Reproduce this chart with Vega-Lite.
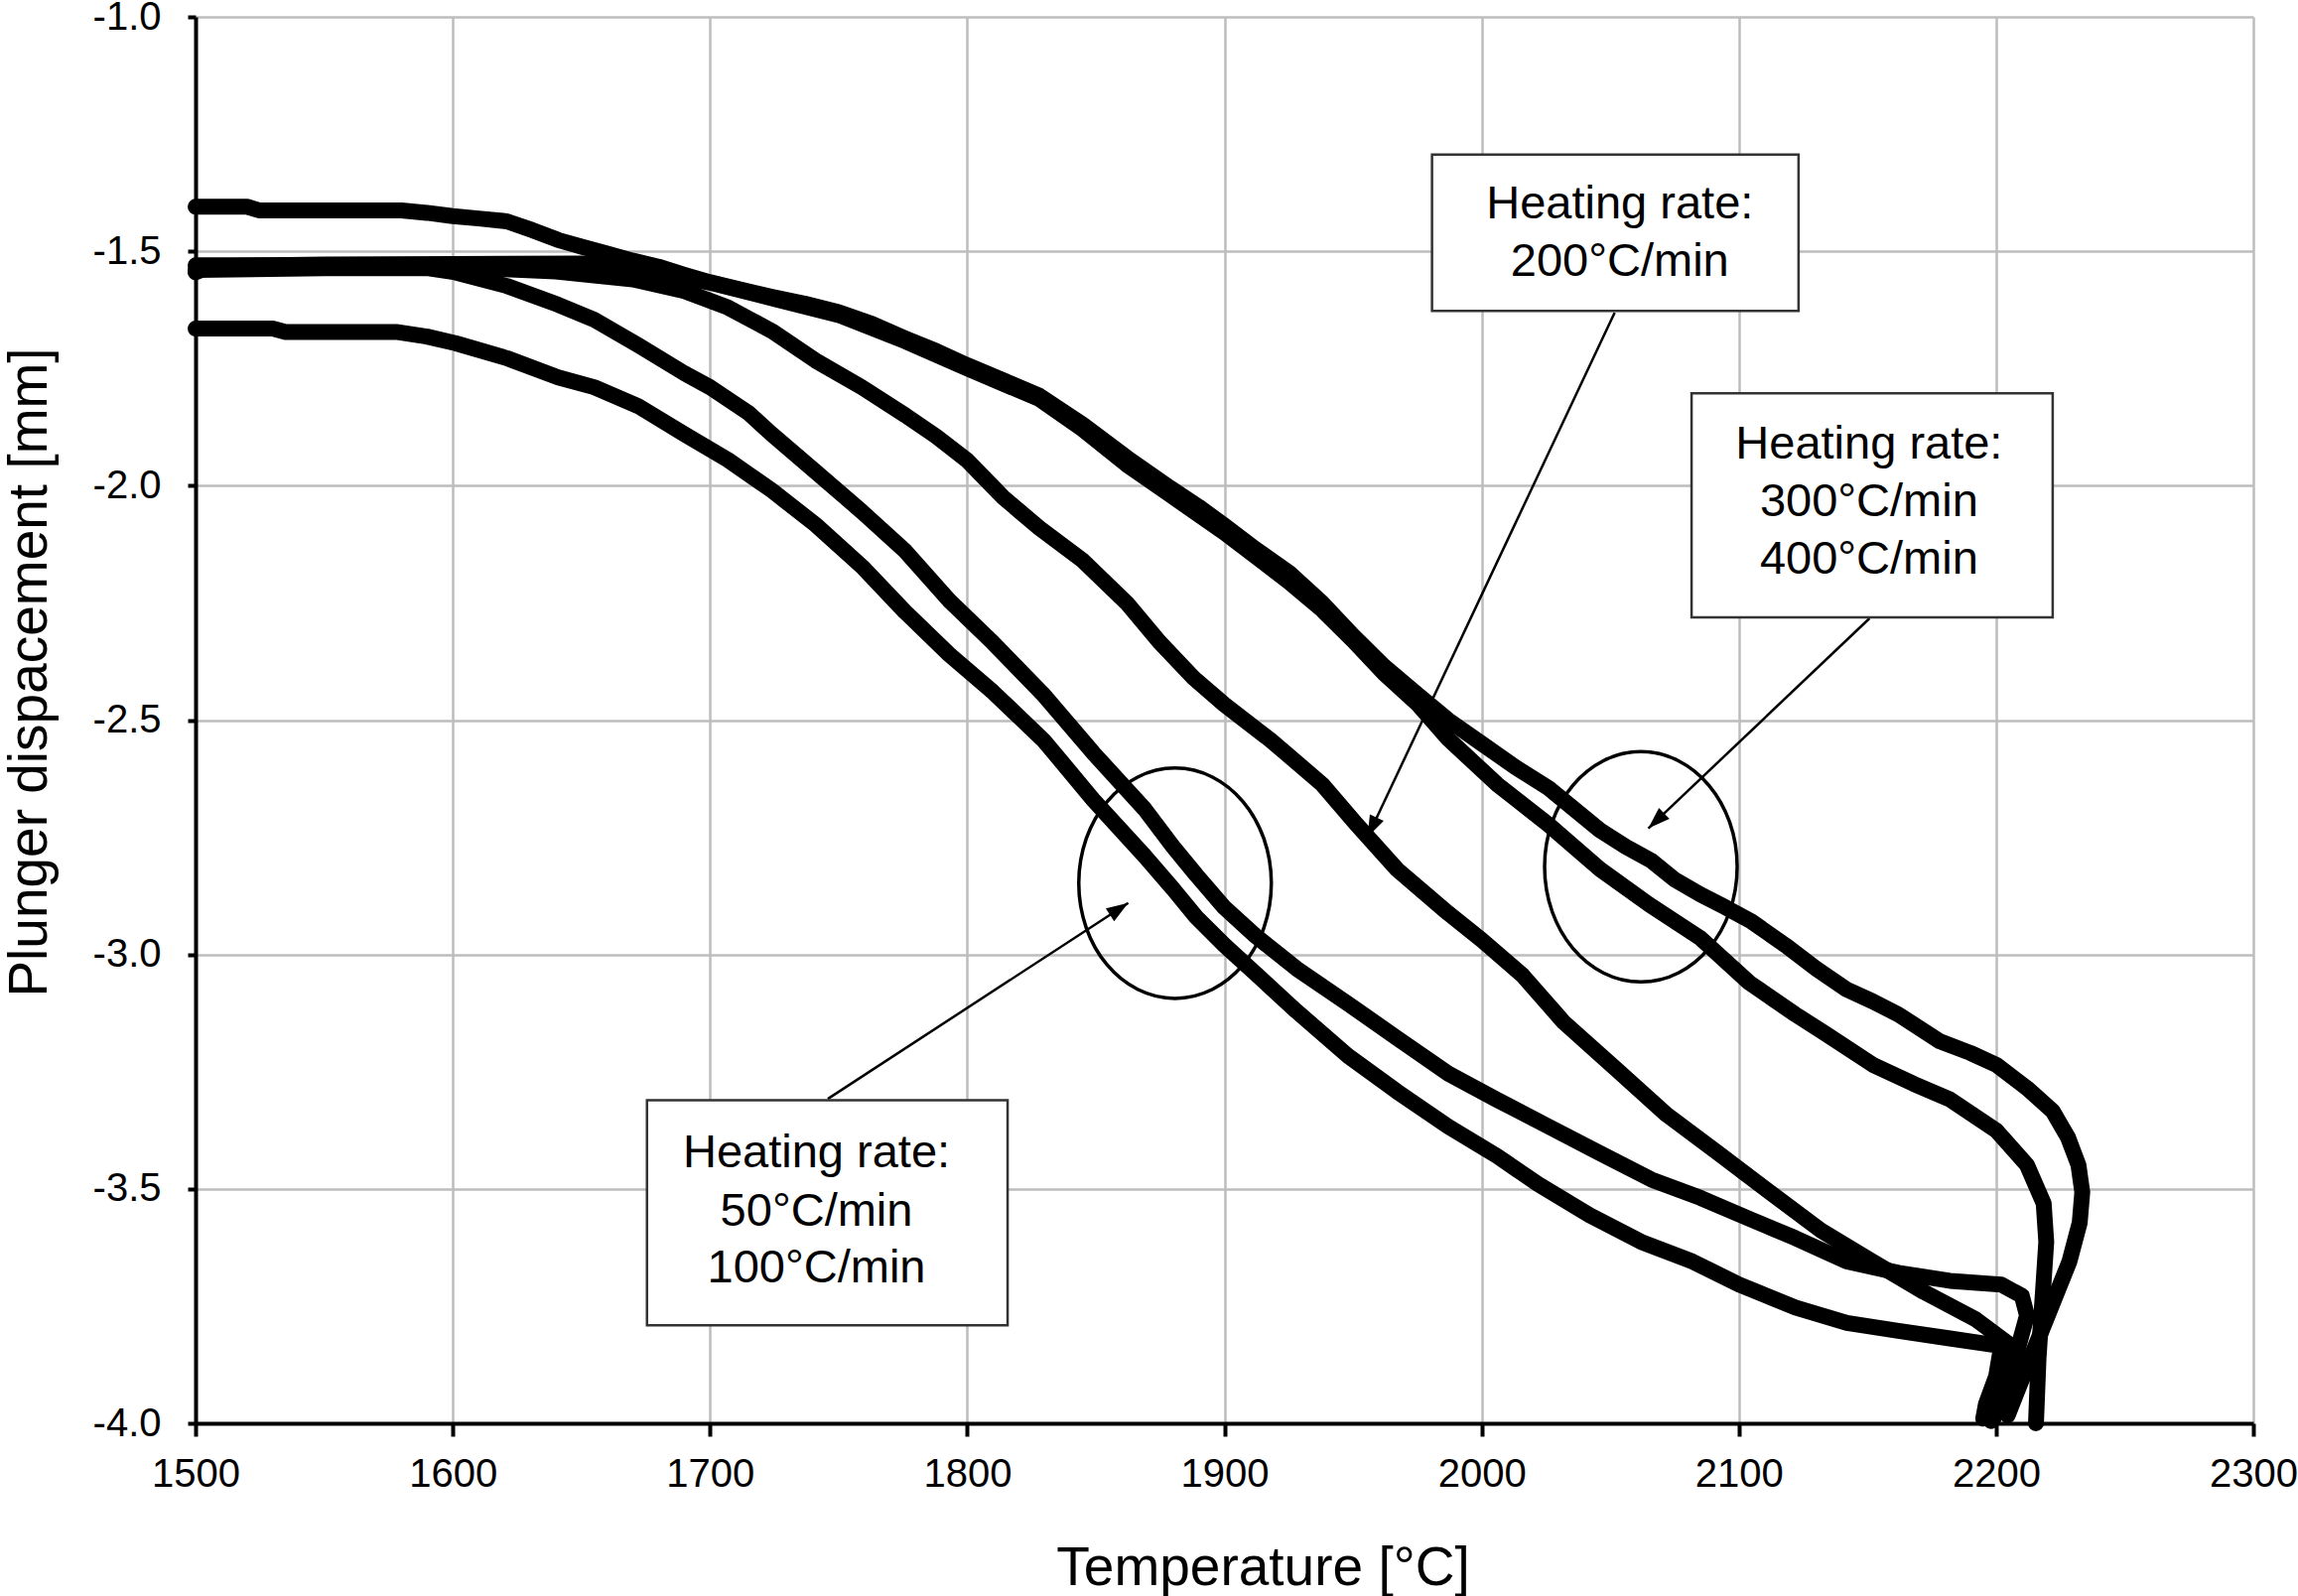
{
  "$schema": "https://vega.github.io/schema/vega-lite/v6.json",
  "width": 2073,
  "height": 1417,
  "autosize": {"type": "none"},
  "padding": {"left": 197, "top": 17, "right": 45, "bottom": 174},
  "background": "white",
  "config": {"view": {"stroke": null}, "font": "Liberation Sans"},
  "datasets": {
    "curves": [
      {"r":"A","i":0,"t":1500,"v":-1.405},{"r":"A","i":1,"t":1520,"v":-1.405},{"r":"A","i":2,"t":1525,"v":-1.413},{"r":"A","i":3,"t":1580,"v":-1.413},{"r":"A","i":4,"t":1590,"v":-1.418},{"r":"A","i":5,"t":1600,"v":-1.425},{"r":"A","i":6,"t":1610,"v":-1.43},{"r":"A","i":7,"t":1621,"v":-1.436},{"r":"A","i":8,"t":1631,"v":-1.455},{"r":"A","i":9,"t":1641,"v":-1.476},{"r":"A","i":10,"t":1650,"v":-1.49},{"r":"A","i":11,"t":1660,"v":-1.505},{"r":"A","i":12,"t":1670,"v":-1.52},{"r":"A","i":13,"t":1680,"v":-1.533},{"r":"A","i":14,"t":1690,"v":-1.55},{"r":"A","i":15,"t":1700,"v":-1.566},{"r":"A","i":16,"t":1712,"v":-1.582},{"r":"A","i":17,"t":1724,"v":-1.597},{"r":"A","i":18,"t":1737,"v":-1.612},{"r":"A","i":19,"t":1750,"v":-1.63},{"r":"A","i":20,"t":1763,"v":-1.655},{"r":"A","i":21,"t":1776,"v":-1.686},{"r":"A","i":22,"t":1788,"v":-1.713},{"r":"A","i":23,"t":1800,"v":-1.743},{"r":"A","i":24,"t":1814,"v":-1.775},{"r":"A","i":25,"t":1828,"v":-1.808},{"r":"A","i":26,"t":1845,"v":-1.87},{"r":"A","i":27,"t":1862,"v":-1.94},{"r":"A","i":28,"t":1879,"v":-2.005},{"r":"A","i":29,"t":1890,"v":-2.045},{"r":"A","i":30,"t":1900,"v":-2.085},{"r":"A","i":31,"t":1912,"v":-2.135},{"r":"A","i":32,"t":1925,"v":-2.185},{"r":"A","i":33,"t":1938,"v":-2.25},{"r":"A","i":34,"t":1950,"v":-2.32},{"r":"A","i":35,"t":1962,"v":-2.385},{"r":"A","i":36,"t":1975,"v":-2.445},{"r":"A","i":37,"t":1987,"v":-2.5},{"r":"A","i":38,"t":2000,"v":-2.55},{"r":"A","i":39,"t":2013,"v":-2.6},{"r":"A","i":40,"t":2026,"v":-2.645},{"r":"A","i":41,"t":2036,"v":-2.69},{"r":"A","i":42,"t":2046,"v":-2.735},{"r":"A","i":43,"t":2056,"v":-2.77},{"r":"A","i":44,"t":2066,"v":-2.8},{"r":"A","i":45,"t":2075,"v":-2.84},{"r":"A","i":46,"t":2085,"v":-2.872},{"r":"A","i":47,"t":2095,"v":-2.9},{"r":"A","i":48,"t":2105,"v":-2.93},{"r":"A","i":49,"t":2118,"v":-2.98},{"r":"A","i":50,"t":2130,"v":-3.03},{"r":"A","i":51,"t":2142,"v":-3.075},{"r":"A","i":52,"t":2152,"v":-3.1},{"r":"A","i":53,"t":2162,"v":-3.128},{"r":"A","i":54,"t":2178,"v":-3.185},{"r":"A","i":55,"t":2190,"v":-3.21},{"r":"A","i":56,"t":2200,"v":-3.235},{"r":"A","i":57,"t":2212,"v":-3.285},{"r":"A","i":58,"t":2222,"v":-3.334},{"r":"A","i":59,"t":2228,"v":-3.391},{"r":"A","i":60,"t":2232,"v":-3.449},{"r":"A","i":61,"t":2233.5,"v":-3.507},{"r":"A","i":62,"t":2232.5,"v":-3.572},{"r":"A","i":63,"t":2228.5,"v":-3.655},{"r":"A","i":64,"t":2222.5,"v":-3.737},{"r":"A","i":65,"t":2216.5,"v":-3.819},{"r":"A","i":66,"t":2210.5,"v":-3.9},{"r":"A","i":67,"t":2204.5,"v":-3.983},
      {"r":"B","i":0,"t":1500,"v":-1.545},{"r":"B","i":1,"t":1506,"v":-1.532},{"r":"B","i":2,"t":1550,"v":-1.528},{"r":"B","i":3,"t":1600,"v":-1.527},{"r":"B","i":4,"t":1650,"v":-1.526},{"r":"B","i":5,"t":1665,"v":-1.532},{"r":"B","i":6,"t":1680,"v":-1.545},{"r":"B","i":7,"t":1700,"v":-1.567},{"r":"B","i":8,"t":1724,"v":-1.6},{"r":"B","i":9,"t":1750,"v":-1.636},{"r":"B","i":10,"t":1776,"v":-1.692},{"r":"B","i":11,"t":1800,"v":-1.75},{"r":"B","i":12,"t":1828,"v":-1.815},{"r":"B","i":13,"t":1845,"v":-1.88},{"r":"B","i":14,"t":1862,"v":-1.955},{"r":"B","i":15,"t":1879,"v":-2.02},{"r":"B","i":16,"t":1900,"v":-2.1},{"r":"B","i":17,"t":1925,"v":-2.205},{"r":"B","i":18,"t":1938,"v":-2.265},{"r":"B","i":19,"t":1950,"v":-2.33},{"r":"B","i":20,"t":1962,"v":-2.4},{"r":"B","i":21,"t":1975,"v":-2.465},{"r":"B","i":22,"t":1987,"v":-2.54},{"r":"B","i":23,"t":2006,"v":-2.637},{"r":"B","i":24,"t":2026,"v":-2.723},{"r":"B","i":25,"t":2046,"v":-2.818},{"r":"B","i":26,"t":2065,"v":-2.893},{"r":"B","i":27,"t":2085,"v":-2.965},{"r":"B","i":28,"t":2104,"v":-3.06},{"r":"B","i":29,"t":2122,"v":-3.128},{"r":"B","i":30,"t":2134,"v":-3.17},{"r":"B","i":31,"t":2152,"v":-3.235},{"r":"B","i":32,"t":2168,"v":-3.276},{"r":"B","i":33,"t":2182,"v":-3.309},{"r":"B","i":34,"t":2200,"v":-3.375},{"r":"B","i":35,"t":2212,"v":-3.449},{"r":"B","i":36,"t":2218.5,"v":-3.531},{"r":"B","i":37,"t":2219.5,"v":-3.613},{"r":"B","i":38,"t":2218.5,"v":-3.696},{"r":"B","i":39,"t":2217.5,"v":-3.778},{"r":"B","i":40,"t":2216.5,"v":-3.86},{"r":"B","i":41,"t":2215.5,"v":-4.0},
      {"r":"C","i":0,"t":1500,"v":-1.53},{"r":"C","i":1,"t":1550,"v":-1.53},{"r":"C","i":2,"t":1600,"v":-1.533},{"r":"C","i":3,"t":1640,"v":-1.543},{"r":"C","i":4,"t":1670,"v":-1.56},{"r":"C","i":5,"t":1690,"v":-1.585},{"r":"C","i":6,"t":1707,"v":-1.62},{"r":"C","i":7,"t":1724,"v":-1.67},{"r":"C","i":8,"t":1741,"v":-1.733},{"r":"C","i":9,"t":1759,"v":-1.79},{"r":"C","i":10,"t":1776,"v":-1.85},{"r":"C","i":11,"t":1788,"v":-1.895},{"r":"C","i":12,"t":1800,"v":-1.946},{"r":"C","i":13,"t":1814,"v":-2.025},{"r":"C","i":14,"t":1828,"v":-2.09},{"r":"C","i":15,"t":1845,"v":-2.16},{"r":"C","i":16,"t":1862,"v":-2.25},{"r":"C","i":17,"t":1875,"v":-2.335},{"r":"C","i":18,"t":1888,"v":-2.41},{"r":"C","i":19,"t":1900,"v":-2.467},{"r":"C","i":20,"t":1918,"v":-2.543},{"r":"C","i":21,"t":1938,"v":-2.637},{"r":"C","i":22,"t":1951,"v":-2.72},{"r":"C","i":23,"t":1967,"v":-2.818},{"r":"C","i":24,"t":1987,"v":-2.912},{"r":"C","i":25,"t":2000,"v":-2.969},{"r":"C","i":26,"t":2016,"v":-3.045},{"r":"C","i":27,"t":2032,"v":-3.145},{"r":"C","i":28,"t":2052,"v":-3.243},{"r":"C","i":29,"t":2072,"v":-3.342},{"r":"C","i":30,"t":2092,"v":-3.424},{"r":"C","i":31,"t":2112,"v":-3.507},{"r":"C","i":32,"t":2132,"v":-3.589},{"r":"C","i":33,"t":2152,"v":-3.655},{"r":"C","i":34,"t":2172,"v":-3.72},{"r":"C","i":35,"t":2192,"v":-3.778},{"r":"C","i":36,"t":2206,"v":-3.835},{"r":"C","i":37,"t":2203,"v":-3.9},{"r":"C","i":38,"t":2200,"v":-3.96},{"r":"C","i":39,"t":2198,"v":-3.995},
      {"r":"D","i":0,"t":1500,"v":-1.54},{"r":"D","i":1,"t":1550,"v":-1.536},{"r":"D","i":2,"t":1590,"v":-1.536},{"r":"D","i":3,"t":1601,"v":-1.545},{"r":"D","i":4,"t":1621,"v":-1.574},{"r":"D","i":5,"t":1641,"v":-1.614},{"r":"D","i":6,"t":1655,"v":-1.646},{"r":"D","i":7,"t":1672,"v":-1.7},{"r":"D","i":8,"t":1690,"v":-1.76},{"r":"D","i":9,"t":1700,"v":-1.79},{"r":"D","i":10,"t":1715,"v":-1.845},{"r":"D","i":11,"t":1724,"v":-1.89},{"r":"D","i":12,"t":1741,"v":-1.97},{"r":"D","i":13,"t":1759,"v":-2.055},{"r":"D","i":14,"t":1776,"v":-2.14},{"r":"D","i":15,"t":1793,"v":-2.245},{"r":"D","i":16,"t":1810,"v":-2.335},{"r":"D","i":17,"t":1830,"v":-2.448},{"r":"D","i":18,"t":1849,"v":-2.57},{"r":"D","i":19,"t":1869,"v":-2.69},{"r":"D","i":20,"t":1880,"v":-2.77},{"r":"D","i":21,"t":1889,"v":-2.83},{"r":"D","i":22,"t":1900,"v":-2.9},{"r":"D","i":23,"t":1912,"v":-2.96},{"r":"D","i":24,"t":1928,"v":-3.03},{"r":"D","i":25,"t":1948,"v":-3.105},{"r":"D","i":26,"t":1967,"v":-3.178},{"r":"D","i":27,"t":1987,"v":-3.254},{"r":"D","i":28,"t":2006,"v":-3.31},{"r":"D","i":29,"t":2026,"v":-3.367},{"r":"D","i":30,"t":2046,"v":-3.424},{"r":"D","i":31,"t":2066,"v":-3.48},{"r":"D","i":32,"t":2085,"v":-3.519},{"r":"D","i":33,"t":2105,"v":-3.566},{"r":"D","i":34,"t":2122,"v":-3.605},{"r":"D","i":35,"t":2142,"v":-3.655},{"r":"D","i":36,"t":2162,"v":-3.679},{"r":"D","i":37,"t":2182,"v":-3.696},{"r":"D","i":38,"t":2202,"v":-3.704},{"r":"D","i":39,"t":2210,"v":-3.728},{"r":"D","i":40,"t":2212,"v":-3.77},{"r":"D","i":41,"t":2208,"v":-3.85},{"r":"D","i":42,"t":2203,"v":-3.93},{"r":"D","i":43,"t":2199,"v":-3.99},
      {"r":"E","i":0,"t":1500,"v":-1.665},{"r":"E","i":1,"t":1530,"v":-1.665},{"r":"E","i":2,"t":1535,"v":-1.672},{"r":"E","i":3,"t":1578,"v":-1.672},{"r":"E","i":4,"t":1590,"v":-1.682},{"r":"E","i":5,"t":1601,"v":-1.696},{"r":"E","i":6,"t":1621,"v":-1.728},{"r":"E","i":7,"t":1641,"v":-1.769},{"r":"E","i":8,"t":1655,"v":-1.79},{"r":"E","i":9,"t":1672,"v":-1.83},{"r":"E","i":10,"t":1690,"v":-1.89},{"r":"E","i":11,"t":1707,"v":-1.945},{"r":"E","i":12,"t":1724,"v":-2.01},{"r":"E","i":13,"t":1741,"v":-2.083},{"r":"E","i":14,"t":1759,"v":-2.172},{"r":"E","i":15,"t":1776,"v":-2.27},{"r":"E","i":16,"t":1793,"v":-2.36},{"r":"E","i":17,"t":1810,"v":-2.44},{"r":"E","i":18,"t":1830,"v":-2.545},{"r":"E","i":19,"t":1849,"v":-2.67},{"r":"E","i":20,"t":1869,"v":-2.79},{"r":"E","i":21,"t":1880,"v":-2.86},{"r":"E","i":22,"t":1889,"v":-2.92},{"r":"E","i":23,"t":1900,"v":-2.98},{"r":"E","i":24,"t":1912,"v":-3.04},{"r":"E","i":25,"t":1928,"v":-3.121},{"r":"E","i":26,"t":1948,"v":-3.216},{"r":"E","i":27,"t":1967,"v":-3.292},{"r":"E","i":28,"t":1987,"v":-3.367},{"r":"E","i":29,"t":2006,"v":-3.43},{"r":"E","i":30,"t":2022,"v":-3.49},{"r":"E","i":31,"t":2042,"v":-3.556},{"r":"E","i":32,"t":2062,"v":-3.613},{"r":"E","i":33,"t":2082,"v":-3.655},{"r":"E","i":34,"t":2100,"v":-3.704},{"r":"E","i":35,"t":2122,"v":-3.753},{"r":"E","i":36,"t":2142,"v":-3.786},{"r":"E","i":37,"t":2162,"v":-3.803},{"r":"E","i":38,"t":2182,"v":-3.819},{"r":"E","i":39,"t":2202,"v":-3.835},{"r":"E","i":40,"t":2200,"v":-3.9},{"r":"E","i":41,"t":2196,"v":-3.96},{"r":"E","i":42,"t":2195,"v":-3.99}
    ],
    "ellipses": [
      {"t": 1880.8, "v": -2.848},
      {"t": 2061.9, "v": -2.813}
    ],
    "arrows": [
      {"id": 1, "t": 2051.7, "v": -1.631, "t2": 1955.6, "v2": -2.75},
      {"id": 2, "t": 2150.8, "v": -2.283, "t2": 2064.8, "v2": -2.731},
      {"id": 3, "t": 1745.8, "v": -3.308, "t2": 1862.6, "v2": -2.89}
    ],
    "tips": [
      {"id": 1, "t": 1955.6, "v": -2.75},
      {"id": 2, "t": 2064.8, "v": -2.731},
      {"id": 3, "t": 1862.6, "v": -2.89}
    ],
    "boxes": [
      {"t": 1980.7, "t2": 2123.2, "v": -1.294, "v2": -1.627},
      {"t": 2081.6, "t2": 2222.0, "v": -1.803, "v2": -2.281},
      {"t": 1675.5, "t2": 1815.7, "v": -3.311, "v2": -3.791}
    ],
    "labels": [
      {"t": 2053.7, "v": -1.43, "label": "Heating rate:"},
      {"t": 2053.7, "v": -1.553, "label": "200°C/min"},
      {"t": 2150.6, "v": -1.942, "label": "Heating rate:"},
      {"t": 2150.6, "v": -2.065, "label": "300°C/min"},
      {"t": 2150.6, "v": -2.188, "label": "400°C/min"},
      {"t": 1741.4, "v": -3.454, "label": "Heating rate:"},
      {"t": 1741.4, "v": -3.579, "label": "50°C/min"},
      {"t": 1741.4, "v": -3.699, "label": "100°C/min"}
    ]
  },
  "encoding": {
    "x": {
      "field": "t", "type": "quantitative",
      "scale": {"domain": [1500, 2300], "nice": false, "zero": false},
      "axis": {
        "title": "Temperature [°C]",
        "values": [1500, 1600, 1700, 1800, 1900, 2000, 2100, 2200, 2300],
        "format": "d",
        "grid": true, "gridColor": "#bdbdbd", "gridWidth": 2.5,
        "domainColor": "black", "domainWidth": 4,
        "tickColor": "black", "tickWidth": 4, "tickSize": 13,
        "labelFontSize": 40, "labelColor": "black", "labelFont": "Liberation Sans",
        "labelBaseline": "alphabetic", "labelPadding": 50,
        "labelFlush": false, "labelOverlap": false,
        "titleFontSize": 55, "titleFontWeight": "normal", "titleColor": "black", "titleFont": "Liberation Sans",
        "titleX": 1075, "titleY": 162, "titleBaseline": "alphabetic", "titleAlign": "center"
      }
    },
    "y": {
      "field": "v", "type": "quantitative",
      "scale": {"domain": [-4, -1], "nice": false, "zero": false},
      "axis": {
        "title": "Plunger dispacement [mm]",
        "values": [-4, -3.5, -3, -2.5, -2, -1.5, -1],
        "format": ".1f",
        "labelExpr": "replace(datum.label, '\u2212', '-')",
        "grid": true, "gridColor": "#bdbdbd", "gridWidth": 2.5,
        "domainColor": "black", "domainWidth": 4,
        "tickColor": "black", "tickWidth": 4, "tickSize": 8,
        "labelFontSize": 40, "labelColor": "black", "labelFont": "Liberation Sans",
        "labelPadding": 27, "labelFlush": false, "labelOverlap": false,
        "titleFontSize": 55, "titleFontWeight": "normal", "titleColor": "black", "titleFont": "Liberation Sans",
        "titleX": -139, "titleY": 660, "titleBaseline": "bottom", "titleAlign": "center", "titleAngle": 270
      }
    }
  },
  "layer": [
    {
      "data": {"name": "curves"},
      "mark": {"type": "line", "color": "black", "strokeWidth": 16, "strokeJoin": "round", "strokeCap": "round"},
      "encoding": {
        "detail": {"field": "r", "type": "nominal"},
        "order": {"field": "i", "type": "quantitative"}
      }
    },
    {
      "data": {"name": "ellipses"},
      "mark": {"type": "point", "shape": "M1,0C1,0.661 0.552,1.196 0,1.196C-0.552,1.196 -1,0.661 -1,0C-1,-0.661 -0.552,-1.196 0,-1.196C0.552,-1.196 1,-0.661 1,0Z", "size": 37636, "filled": false, "stroke": "black", "strokeWidth": 3.5, "opacity": 1}
    },
    {
      "data": {"name": "arrows"},
      "mark": {"type": "rule", "color": "black", "strokeWidth": 2.5},
      "encoding": {
        "x2": {"field": "t2"},
        "y2": {"field": "v2"}
      }
    },
    {
      "data": {"name": "tips"},
      "transform": [{"filter": "datum.id == 1"}],
      "mark": {"type": "point", "shape": "M0,0L-0.7,2L0.7,2Z", "size": 484, "filled": true, "color": "black", "opacity": 1, "angle": 205.2}
    },
    {
      "data": {"name": "tips"},
      "transform": [{"filter": "datum.id == 2"}],
      "mark": {"type": "point", "shape": "M0,0L-0.7,2L0.7,2Z", "size": 484, "filled": true, "color": "black", "opacity": 1, "angle": 226.5}
    },
    {
      "data": {"name": "tips"},
      "transform": [{"filter": "datum.id == 3"}],
      "mark": {"type": "point", "shape": "M0,0L-0.7,2L0.7,2Z", "size": 484, "filled": true, "color": "black", "opacity": 1, "angle": 56.9}
    },
    {
      "data": {"name": "boxes"},
      "mark": {"type": "rect", "fill": "white", "stroke": "#333333", "strokeWidth": 2.5},
      "encoding": {
        "x2": {"field": "t2"},
        "y2": {"field": "v2"}
      }
    },
    {
      "data": {"name": "labels"},
      "mark": {"type": "text", "fontSize": 47, "font": "Liberation Sans", "align": "center", "baseline": "alphabetic", "color": "black"},
      "encoding": {
        "text": {"field": "label", "type": "nominal"}
      }
    }
  ]
}
